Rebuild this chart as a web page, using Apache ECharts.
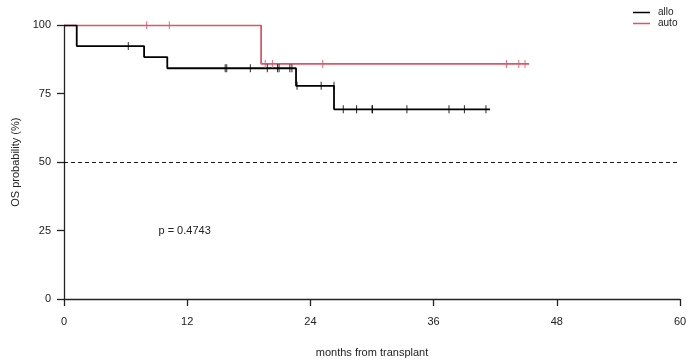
<!DOCTYPE html>
<html>
<head>
<meta charset="utf-8">
<script src="https://cdn.jsdelivr.net/npm/echarts@6/dist/echarts.min.js"></script>
<style>
html,body{margin:0;padding:0;background:#fff;}
#chart{width:687px;height:362px;}
</style>
</head>
<body>
<div id="chart"></div>
<script>
// Kaplan-Meier step points (time in months, survival %)
var alloTimes = [0, 1.24, 7.8, 10.06, 22.6, 26.3, 41.5];
var alloSurv  = [100, 92.4, 88.4, 84.3, 77.9, 69.3, 69.3];
var autoTimes = [0, 19.2, 45.3];
var autoSurv  = [100, 85.9, 85.9];
// Censor marks
var alloCensorTimes = [6.26, 15.7, 15.85, 18.15, 19.8, 20.8, 20.95, 22.0, 22.2, 22.7, 25.05, 26.3, 27.2, 28.5, 30.0, 30.05, 33.4, 37.5, 39.0, 41.1];
var alloCensorSurv  = [92.4, 84.3, 84.3, 84.3, 84.3, 84.3, 84.3, 84.3, 84.3, 77.9, 77.9, 77.9, 69.3, 69.3, 69.3, 69.3, 69.3, 69.3, 69.3, 69.3];
var autoCensorTimes = [8.05, 10.26, 19.6, 20.3, 25.2, 43.1, 44.3, 44.9];
var autoCensorSurv  = [100, 100, 85.9, 85.9, 85.9, 85.9, 85.9, 85.9];
var xTicks = [0, 12, 24, 36, 48, 60];
var yTicks = [0, 25, 50, 75, 100];
var pText = 'p = 0.4743';

function pairs(xs, ys){ return xs.map(function(x,i){ return [x, ys[i]]; }); }

var BLACK = '#000000', RED = '#DF536B', AX = '#222222';
var FONT = '"Liberation Sans", Arial, sans-serif';

var chart = echarts.init(document.getElementById('chart'), null, {renderer:'canvas'});
chart.setOption({
  animation: false,
  backgroundColor: '#fff',
  textStyle: {fontFamily: FONT},
  grid: {left: 64, right: 7, top: 25.3, bottom: 63, containLabel: false, outerBoundsMode: 'none'},
  legend: {
    data: ['allo', 'auto'],
    orient: 'vertical',
    left: 633, top: 7, padding: 0,
    icon: 'rect', itemWidth: 17, itemHeight: 1.5, itemGap: 0,
    textStyle: {fontSize: 10, color: AX, fontFamily: FONT, padding: [0,0,0,3], lineHeight: 11},
    selectedMode: false
  },
  xAxis: {
    type: 'value', min: xTicks[0], max: xTicks[xTicks.length-1], interval: 12,
    name: 'months from transplant', nameLocation: 'middle', nameGap: 48,
    nameTextStyle: {fontSize: 11, color: AX, fontFamily: FONT},
    axisLine: {show: true, onZero: false, lineStyle: {color: AX, width: 1.3}},
    axisTick: {show: true, length: 7, lineStyle: {color: AX, width: 1.3}},
    axisLabel: {fontSize: 11, color: AX, margin: 17, fontFamily: FONT},
    splitLine: {show: false}
  },
  yAxis: {
    type: 'value', min: yTicks[0], max: yTicks[yTicks.length-1], interval: 25,
    name: 'OS probability (%)', nameLocation: 'middle', nameGap: 41, nameRotate: 90,
    nameTextStyle: {fontSize: 11, color: AX, fontFamily: FONT},
    axisLine: {show: true, onZero: false, lineStyle: {color: AX, width: 1.3}},
    axisTick: {show: true, length: 7, lineStyle: {color: AX, width: 1.3}},
    axisLabel: {fontSize: 11, color: AX, margin: 13, fontFamily: FONT},
    splitLine: {show: false}
  },
  series: [
    {
      name: 'allo', type: 'line', step: 'end', data: pairs(alloTimes, alloSurv),
      showSymbol: false, symbol: 'none', lineStyle: {color: BLACK, width: 1.8}, itemStyle: {color: BLACK}, z: 3,
      markLine: {
        silent: true, symbol: ['none','none'], label: {show: false},
        lineStyle: {color: '#000', width: 0.9, type: [4, 3]},
        data: [{yAxis: 50}]
      }
    },
    {
      name: 'auto', type: 'line', step: 'end', data: pairs(autoTimes, autoSurv),
      showSymbol: false, symbol: 'none', lineStyle: {color: RED, width: 1.8}, itemStyle: {color: RED}, z: 2
    },
    {
      name: 'allo censor', type: 'scatter', data: pairs(alloCensorTimes, alloCensorSurv),
      symbol: 'rect', symbolSize: [1, 8], itemStyle: {color: BLACK, opacity: 0.85}, z: 4
    },
    {
      name: 'auto censor', type: 'scatter', data: pairs(autoCensorTimes, autoCensorSurv),
      symbol: 'rect', symbolSize: [1, 8], itemStyle: {color: RED, opacity: 0.85}, z: 4
    }
  ]
});
var pp = chart.convertToPixel({gridIndex: 0}, [9.2, 25]);
chart.setOption({
  graphic: [{
    type: 'text', x: pp[0], y: pp[1],
    style: {text: pText, fontSize: 11, fill: AX, fontFamily: FONT, verticalAlign: 'middle', align: 'left'}
  }]
});
</script>
</body>
</html>
